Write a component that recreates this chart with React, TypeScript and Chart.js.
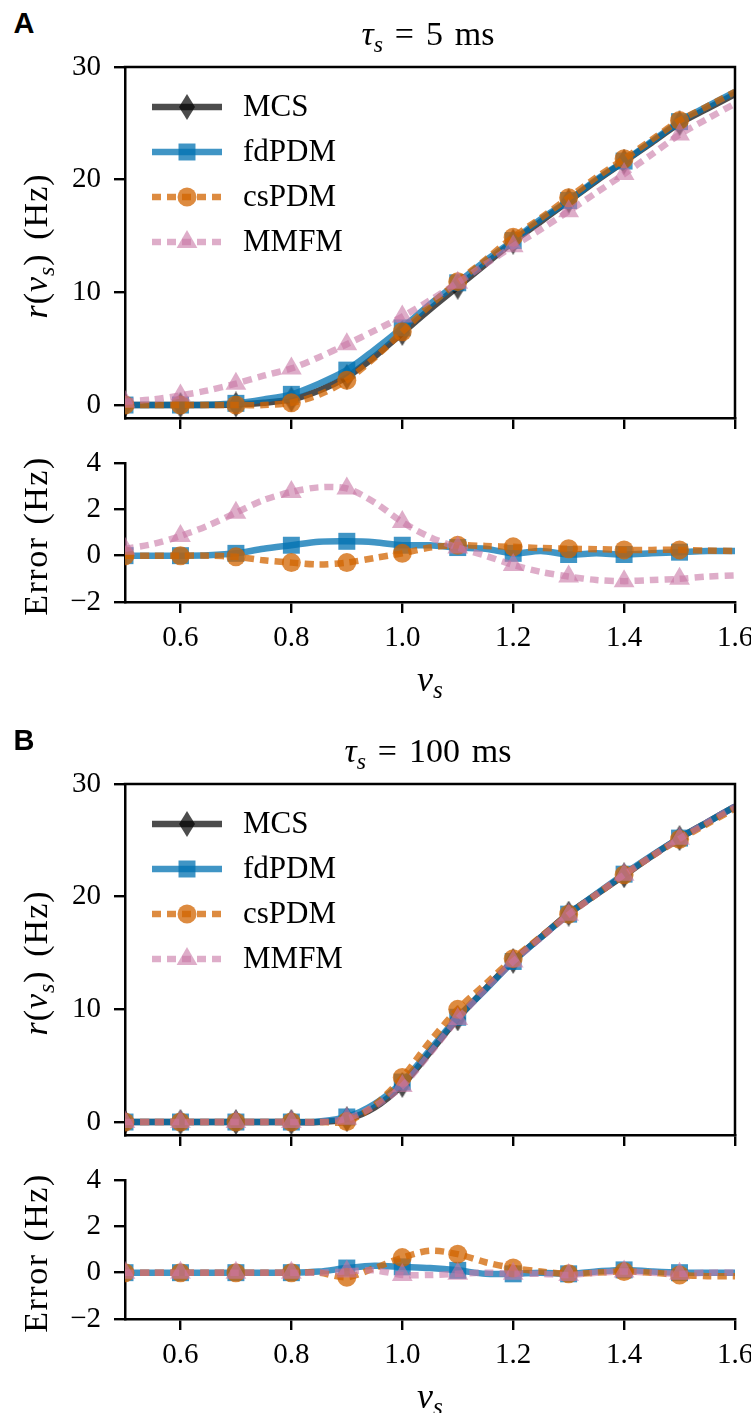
import React, { useEffect, useRef } from 'react';
import { Chart, registerables } from 'chart.js';

Chart.register(...registerables);

// ---------------- data ----------------
const nuS = [0.5, 0.55, 0.6, 0.65, 0.7, 0.75, 0.8, 0.85, 0.9, 0.95, 1.0, 1.05, 1.1, 1.15, 1.2, 1.25, 1.3, 1.35, 1.4, 1.45, 1.5, 1.55, 1.6];

const seriesNames = ['MCS', 'fdPDM', 'csPDM', 'MMFM'];

// panel A (tau_s = 5 ms)
const rateMcsA = [0, 0, 0, 0, 0.05, 0.2, 0.5, 1.3, 2.5, 4.3, 6.4, 8.5, 10.5, 12.5, 14.5, 16.3, 18.1, 19.9, 21.6, 23.3, 25.0, 26.3, 27.6];
const rateFdpdmA = [0, 0, 0, 0.02, 0.15, 0.5, 0.95, 1.9, 3.1, 4.9, 6.85, 8.95, 10.85, 12.8, 14.6, 16.5, 18.15, 20.0, 21.65, 23.4, 25.15, 26.5, 27.8];
const rateCspdmA = [0, 0, 0, 0, 0, 0, 0.2, 0.92, 2.2, 4.2, 6.5, 8.85, 10.95, 12.9, 14.9, 16.6, 18.4, 20.2, 21.85, 23.55, 25.25, 26.5, 27.8];
const rateMmfmA = [0.3, 0.5, 0.85, 1.3, 1.9, 2.6, 3.25, 4.25, 5.4, 6.6, 7.85, 9.3, 10.85, 12.5, 14.1, 15.6, 17.2, 18.85, 20.5, 22.25, 24.0, 25.4, 26.75];
const errFdpdmA = [0, 0, 0, 0.02, 0.1, 0.3, 0.45, 0.6, 0.62, 0.58, 0.45, 0.45, 0.35, 0.3, 0.1, 0.2, 0.05, 0.1, 0.05, 0.1, 0.15, 0.2, 0.2];
const errCspdmA = [0, 0, 0, 0, -0.05, -0.2, -0.3, -0.38, -0.3, -0.1, 0.1, 0.35, 0.45, 0.42, 0.38, 0.33, 0.3, 0.28, 0.25, 0.25, 0.25, 0.22, 0.2];
const errMmfmA = [0.3, 0.5, 0.85, 1.3, 1.85, 2.4, 2.75, 2.95, 2.9, 2.3, 1.45, 0.8, 0.35, 0.0, -0.4, -0.7, -0.9, -1.05, -1.1, -1.05, -1.0, -0.9, -0.85];

// panel B (tau_s = 100 ms)
const rateMcsB = [0, 0, 0, 0, 0, 0, 0, 0, 0.25, 1.3, 3.3, 6.2, 9.2, 11.8, 14.3, 16.4, 18.5, 20.2, 21.9, 23.6, 25.2, 26.6, 28.0];
const rateFdpdmB = [0, 0, 0, 0, 0, 0, 0, 0.05, 0.45, 1.6, 3.55, 6.4, 9.3, 11.75, 14.25, 16.4, 18.45, 20.25, 22.0, 23.65, 25.2, 26.6, 28.0];
const rateCspdmB = [0, 0, 0, 0, 0, 0, 0, 0, 0.05, 1.5, 3.95, 7.15, 10.0, 12.25, 14.5, 16.45, 18.45, 20.2, 21.95, 23.6, 25.1, 26.45, 27.85];
const rateMmfmB = [0, 0, 0, 0, 0, 0, 0, 0, 0.3, 1.4, 3.2, 6.1, 9.15, 11.8, 14.25, 16.35, 18.4, 20.2, 21.95, 23.6, 25.15, 26.6, 28.0];
const errFdpdmB = [0, 0, 0, 0, 0, 0, 0, 0.05, 0.2, 0.3, 0.25, 0.2, 0.1, -0.05, -0.05, 0, -0.05, 0.05, 0.12, 0.05, 0, 0, 0];
const errCspdmB = [0, 0, 0, 0, 0, 0, 0, 0, -0.2, 0.2, 0.65, 0.95, 0.8, 0.45, 0.2, 0.05, -0.05, 0, 0.05, 0, -0.1, -0.15, -0.15];
const errMmfmB = [0, 0, 0, 0, 0, 0, 0, 0, 0.05, 0.1, -0.1, -0.1, -0.05, 0, -0.05, -0.05, -0.1, 0, 0.05, 0, -0.05, 0, 0];

// axes
const xTicks = [0.6, 0.8, 1.0, 1.2, 1.4, 1.6];
const xTickLabels = ['0.6', '0.8', '1.0', '1.2', '1.4', '1.6'];
const rateTicks = [0, 10, 20, 30];
const rateTickLabels = ['0', '10', '20', '30'];
const errTicks = [-2, 0, 2, 4];
const errTickLabels = ['\u22122', '0', '2', '4'];

// ---------------- styling ----------------
const SERIF = "'Liberation Serif', 'DejaVu Serif', serif";
const W = 751;

type Marker = 'diamond' | 'rect' | 'circle' | 'triangle';
type Sty = { color: string; dash: number[]; marker: Marker; r: number; order: number };

const STYLES: Record<string, Sty> = {
  MCS: { color: 'rgba(0,0,0,0.7)', dash: [], marker: 'diamond', r: 12, order: 4 },
  fdPDM: { color: 'rgba(0,114,178,0.75)', dash: [], marker: 'rect', r: 12, order: 3 },
  csPDM: { color: 'rgba(210,100,0,0.75)', dash: [9, 6], marker: 'circle', r: 9.5, order: 2 },
  MMFM: { color: 'rgba(200,118,165,0.6)', dash: [9, 6], marker: 'triangle', r: 12, order: 1 },
};

const DW = 16;
const DH = 26;
function diamondCanvas(color: string) {
  const c = document.createElement('canvas');
  c.width = DW;
  c.height = DH;
  const g = c.getContext('2d')!;
  g.fillStyle = color;
  g.beginPath();
  g.moveTo(DW / 2, 0);
  g.lineTo(DW, DH / 2);
  g.lineTo(DW / 2, DH);
  g.lineTo(0, DH / 2);
  g.closePath();
  g.fill();
  return c;
}

function drawMarker(ctx: CanvasRenderingContext2D, sty: Sty, img: any, x: number, y: number) {
  ctx.save();
  ctx.fillStyle = sty.color;
  const r = sty.r;
  if (sty.marker === 'diamond') {
    ctx.drawImage(img, x - DW / 2, y - DH / 2);
  } else if (sty.marker === 'rect') {
    const s = Math.SQRT1_2 * r;
    ctx.fillRect(x - s, y - s, 2 * s, 2 * s);
  } else if (sty.marker === 'circle') {
    ctx.beginPath();
    ctx.arc(x, y, r, 0, Math.PI * 2);
    ctx.fill();
  } else {
    ctx.beginPath();
    for (let k = 0; k < 3; k++) {
      const a = (k * 2 * Math.PI) / 3;
      const px = x + Math.sin(a) * r;
      const py = y - Math.cos(a) * r;
      if (k === 0) ctx.moveTo(px, py);
      else ctx.lineTo(px, py);
    }
    ctx.closePath();
    ctx.fill();
  }
  ctx.restore();
}

type Series = { name: string; values: number[] };

type PanelProps = {
  top: number;
  height: number;
  padTop: number;
  xAxisHeight: number;
  showXLabels: boolean;
  yMin: number;
  yMax: number;
  yTicks: number[];
  yTickLabels: string[];
  series: Series[];
  legend: boolean;
  box: boolean;
};

function ChartPanel(p: PanelProps) {
  const ref = useRef<HTMLCanvasElement>(null);
  useEffect(() => {
    const canvas = ref.current!;
    const imgs: Record<string, any> = {};
    p.series.forEach((s) => {
      const sty = STYLES[s.name];
      imgs[s.name] = sty.marker === 'diamond' ? diamondCanvas(sty.color) : sty.marker;
    });
    const datasets = p.series.map((s) => {
      const sty = STYLES[s.name];
      return {
        label: s.name,
        data: nuS.map((x, i) => ({ x, y: s.values[i] })),
        borderColor: sty.color,
        backgroundColor: sty.color,
        borderWidth: 6.5,
        borderDash: sty.dash,
        borderCapStyle: 'butt',
        borderJoinStyle: 'round',
        pointStyle: imgs[s.name],
        pointRadius: (c: any) => (c.dataIndex % 2 === 0 && c.dataIndex <= 20 ? sty.r : 0),
        pointBackgroundColor: sty.color,
        pointBorderWidth: 0,
        pointHoverRadius: 0,
        tension: 0.3,
        order: sty.order,
        clip: 0,
      };
    });

    const framePlugin = {
      id: 'frameBox',
      afterDraw(chart: any) {
        if (!p.box) return;
        const { ctx, chartArea: a } = chart;
        ctx.save();
        ctx.strokeStyle = '#000';
        ctx.lineWidth = 2.5;
        ctx.beginPath();
        ctx.moveTo(a.left - 1.25, a.top);
        ctx.lineTo(a.right, a.top);
        ctx.lineTo(a.right, a.bottom + 1.25);
        ctx.stroke();
        ctx.restore();
      },
    };

    const legendPlugin = {
      id: 'lineLegend',
      afterDraw(chart: any) {
        if (!p.legend) return;
        const { ctx, chartArea: a } = chart;
        p.series.forEach((s, i) => {
          const sty = STYLES[s.name];
          const y = a.top + 40 + i * 45;
          const x1 = a.left + 27;
          const x2 = a.left + 97;
          ctx.save();
          ctx.strokeStyle = sty.color;
          ctx.lineWidth = 6.5;
          ctx.lineCap = 'butt';
          ctx.setLineDash(sty.dash);
          ctx.beginPath();
          ctx.moveTo(x1, y);
          ctx.lineTo(x2, y);
          ctx.stroke();
          ctx.restore();
          drawMarker(ctx, sty, imgs[s.name], (x1 + x2) / 2, y);
          ctx.save();
          ctx.fillStyle = '#000';
          ctx.font = `31px ${SERIF}`;
          ctx.textAlign = 'left';
          ctx.textBaseline = 'middle';
          ctx.fillText(s.name, a.left + 118, y + 1);
          ctx.restore();
        });
      },
    };

    const font = { family: SERIF, size: 29 };
    const chart = new Chart(canvas, {
      type: 'line',
      data: { datasets } as any,
      options: {
        animation: false,
        responsive: false,
        maintainAspectRatio: false,
        events: [],
        layout: { padding: { top: p.padTop, right: 16, left: 0, bottom: 0 } },
        plugins: { legend: { display: false }, tooltip: { enabled: false }, title: { display: false } },
        scales: {
          x: {
            type: 'linear',
            min: 0.5,
            max: 1.6,
            afterBuildTicks: (s: any) => {
              s.ticks = xTicks.map((v) => ({ value: v }));
            },
            afterFit: (s: any) => {
              s.height = p.xAxisHeight;
              s.paddingLeft = 0;
              s.paddingRight = 0;
            },
            ticks: {
              display: p.showXLabels,
              callback: (_v: any, i: number) => xTickLabels[i],
              font,
              color: '#000',
              padding: 8,
              autoSkip: false,
              maxRotation: 0,
            },
            grid: { drawOnChartArea: false, drawTicks: true, tickLength: 11, color: '#000', lineWidth: 2.4 },
            border: { display: true, color: '#000', width: 2.5 },
          },
          y: {
            type: 'linear',
            min: p.yMin,
            max: p.yMax,
            afterBuildTicks: (s: any) => {
              s.ticks = p.yTicks.map((v) => ({ value: v }));
            },
            afterFit: (s: any) => {
              s.width = 125;
              s.paddingTop = 0;
              s.paddingBottom = 0;
            },
            ticks: {
              callback: (_v: any, i: number) => p.yTickLabels[i],
              font,
              color: '#000',
              padding: 13,
              autoSkip: false,
            },
            grid: { drawOnChartArea: false, drawTicks: true, tickLength: 11, color: '#000', lineWidth: 2.4 },
            border: { display: true, color: '#000', width: 2.5 },
          },
        },
      } as any,
      plugins: [framePlugin, legendPlugin],
    });
    return () => chart.destroy();
  }, []);
  return (
    <canvas
      ref={ref}
      width={W}
      height={p.height}
      style={{ position: 'absolute', left: 0, top: p.top, width: W, height: p.height }}
    />
  );
}

const subS = (
  <span style={{ fontSize: '0.7em', verticalAlign: '-0.28em', fontStyle: 'italic', lineHeight: 0 }}>s</span>
);

function Txt(props: { x: number; y: number; rot?: boolean; size?: number; bold?: boolean; sans?: boolean; spacing?: number; children: any }) {
  return (
    <div
      style={{
        position: 'absolute',
        left: props.x,
        top: props.y,
        transform: 'translate(-50%, -50%)' + (props.rot ? ' rotate(-90deg)' : ''),
        whiteSpace: 'nowrap',
        fontFamily: props.sans ? "'Liberation Sans', Arial, sans-serif" : SERIF,
        fontWeight: props.bold ? 700 : 400,
        fontSize: props.size || 30,
        letterSpacing: props.spacing || 0,
        lineHeight: 1,
        color: '#000',
      }}
    >
      {props.children}
    </div>
  );
}

function Figure(props: { dy: number; letter: string; tau: string; rate: number[][]; err: number[][] }) {
  const { dy } = props;
  const rateSeries = seriesNames.map((n, i) => ({ name: n, values: props.rate[i] }));
  const errSeries = seriesNames.slice(1).map((n, i) => ({ name: n, values: props.err[i] }));
  return (
    <>
      <ChartPanel
        top={50 + dy}
        height={380}
        padTop={17}
        xAxisHeight={12}
        showXLabels={false}
        yMin={-1.15}
        yMax={30}
        yTicks={rateTicks}
        yTickLabels={rateTickLabels}
        series={rateSeries}
        legend={true}
        box={true}
      />
      <ChartPanel
        top={445 + dy}
        height={220}
        padTop={18}
        xAxisHeight={63}
        showXLabels={true}
        yMin={-2}
        yMax={4}
        yTicks={errTicks}
        yTickLabels={errTickLabels}
        series={errSeries}
        legend={false}
        box={false}
      />
      <Txt x={24} y={23 + dy} size={29} bold sans>
        {props.letter}
      </Txt>
      <Txt x={428} y={34 + dy} size={34}>
        <i>τ</i>
        {subS}
        <span style={{ margin: '0 0.35em' }}>=</span>
        {props.tau}
        <span style={{ marginLeft: '0.35em' }}>ms</span>
      </Txt>
      <Txt x={36} y={246 + dy} rot size={34} spacing={1}>
        <i>r</i>(<i>ν</i>
        {subS})<span style={{ marginLeft: '0.4em' }}>(Hz)</span>
      </Txt>
      <Txt x={36} y={536 + dy} rot size={34} spacing={1.5}>
        Error<span style={{ marginLeft: '0.35em' }}>(Hz)</span>
      </Txt>
      <Txt x={430} y={679 + dy} size={36}>
        <i>ν</i>
        {subS}
      </Txt>
    </>
  );
}

export default function App() {
  return (
    <div style={{ position: 'absolute', left: 0, top: 0, width: W, height: 1413, background: '#fff', overflow: 'hidden' }}>
      <Figure
        dy={0}
        letter="A"
        tau="5"
        rate={[rateMcsA, rateFdpdmA, rateCspdmA, rateMmfmA]}
        err={[errFdpdmA, errCspdmA, errMmfmA]}
      />
      <Figure
        dy={717}
        letter="B"
        tau="100"
        rate={[rateMcsB, rateFdpdmB, rateCspdmB, rateMmfmB]}
        err={[errFdpdmB, errCspdmB, errMmfmB]}
      />
    </div>
  );
}
